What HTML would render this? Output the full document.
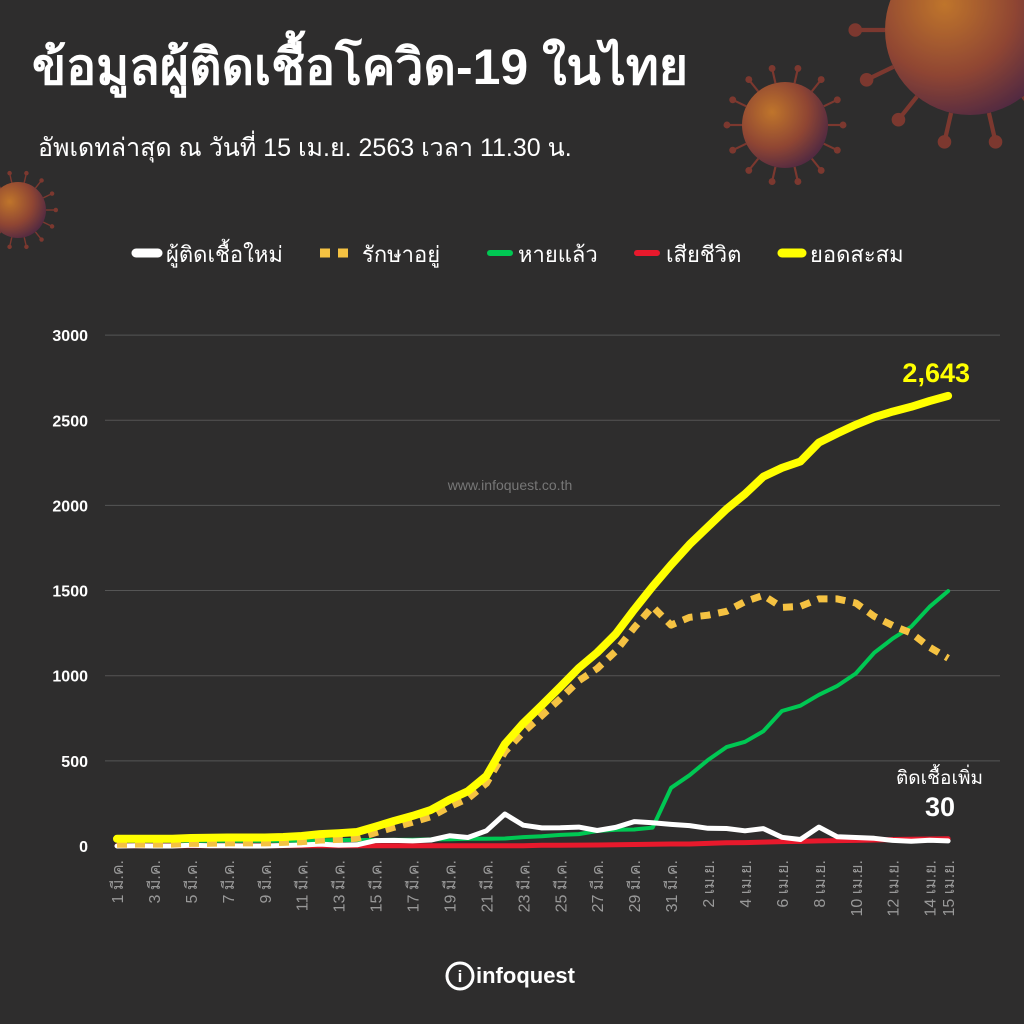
<!DOCTYPE html>
<html><head><meta charset="utf-8"><style>
html,body{margin:0;padding:0;background:#2e2d2d;}
svg{display:block}
text{font-family:"Liberation Sans","Noto Sans CJK SC",sans-serif;}
</style></head><body>
<svg id="s" width="1024" height="1024" xmlns="http://www.w3.org/2000/svg">
<defs>
<radialGradient id="vg" cx="35%" cy="35%" r="70%"><stop offset="0" stop-color="#d9822b"/><stop offset="0.6" stop-color="#a04a35"/><stop offset="1" stop-color="#5a2a45"/></radialGradient>
</defs>
<rect width="1024" height="1024" fill="#2e2d2d"/>
<g id="vir" opacity="0.85"></g>
<text x="32" y="84" fill="#fff" font-size="50" font-weight="bold">ข้อมูลผู้ติดเชื้อโควิด-19 ในไทย</text>
<text x="38" y="156" fill="#fff" font-size="25">อัพเดทล่าสุด ณ วันที่ 15 เม.ย. 2563 เวลา 11.30 น.</text>
<g font-size="22" fill="#fff">
<line x1="136" y1="253" x2="158" y2="253" stroke="#fff" stroke-width="9" stroke-linecap="round"/><text x="166" y="262">ผู้ติดเชื้อใหม่</text>
<line x1="320" y1="253" x2="350" y2="253" stroke="#f5c242" stroke-width="9" stroke-dasharray="10,8"/><text x="362" y="262">รักษาอยู่</text>
<line x1="490" y1="253" x2="510" y2="253" stroke="#00c853" stroke-width="6" stroke-linecap="round"/><text x="518" y="262">หายแล้ว</text>
<line x1="637" y1="253" x2="657" y2="253" stroke="#e8192c" stroke-width="6" stroke-linecap="round"/><text x="666" y="262">เสียชีวิต</text>
<line x1="782" y1="253" x2="802" y2="253" stroke="#ffff00" stroke-width="9" stroke-linecap="round"/><text x="810" y="262">ยอดสะสม</text>
</g>
<g id="grid"></g>
<text x="510" y="490" fill="#777" font-size="14" text-anchor="middle">www.infoquest.co.th</text>
<g id="lines"></g>
<text x="970" y="382" fill="#ffff00" font-size="27" font-weight="bold" text-anchor="end">2,643</text>
<text x="983" y="784" fill="#fff" font-size="19" text-anchor="end">ติดเชื้อเพิ่ม</text>
<text x="955" y="816" fill="#fff" font-size="27" font-weight="bold" text-anchor="end">30</text>
<g transform="translate(446,962)">
<circle cx="14" cy="14" r="13" fill="none" stroke="#fff" stroke-width="3"/>
<text x="14" y="20" fill="#fff" font-size="17" font-weight="bold" text-anchor="middle">i</text>
<text x="30" y="21" fill="#fff" font-size="22" font-weight="bold">infoquest</text>
</g>
</svg>
<script>
var NS="http://www.w3.org/2000/svg";
function el(p,t,a,txt){var e=document.createElementNS(NS,t);for(var k in a)e.setAttribute(k,a[k]);if(txt!=null)e.textContent=txt;p.appendChild(e);return e;}
var vir=document.getElementById('vir');
function virus(cx,cy,r){var n=14;for(var i=0;i<n;i++){var a=i*2*Math.PI/n;var x1=cx+Math.cos(a)*r,y1=cy+Math.sin(a)*r,x2=cx+Math.cos(a)*r*1.35,y2=cy+Math.sin(a)*r*1.35;el(vir,'line',{x1:x1,y1:y1,x2:x2,y2:y2,stroke:'#8a3b30','stroke-width':r*0.05});el(vir,'circle',{cx:x2,cy:y2,r:r*0.08,fill:'#8a3b30'});}el(vir,'circle',{cx:cx,cy:cy,r:r,fill:'url(#vg)'});}
virus(785,125,43);virus(970,30,85);virus(18,210,28);
var g=document.getElementById('grid');
function Y(v){return 846-v*0.1703;}function X(i){return 117+i*18.47;}
for(var v=0;v<=3000;v+=500){if(v>0)el(g,'line',{x1:105,y1:Y(v),x2:1000,y2:Y(v),stroke:'#555','stroke-width':1});el(g,'text',{x:88,y:Y(v)+6,fill:'#fff','font-size':16,'font-weight':'bold','text-anchor':'end'},String(v));}
var labs=[];for(var i=0;i<=30;i+=2)labs.push([i,(i+1)+' มี.ค.']);for(var i=32;i<=44;i+=2)labs.push([i,(i-30)+' เม.ย.']);labs.push([45,'15 เม.ย.']);
labs.forEach(function(l){var x=X(l[0])+6;el(g,'text',{x:0,y:0,fill:'#999','font-size':16,'text-anchor':'end',transform:'translate('+x+',860) rotate(-90)'},l[1]);});
var cum=[42,43,43,43,47,48,50,50,50,53,59,70,75,82,114,147,177,212,272,322,411,599,721,827,934,1045,1136,1245,1388,1524,1651,1771,1875,1978,2067,2169,2220,2258,2369,2423,2473,2518,2551,2579,2613,2643];
var rec=[31,31,31,31,31,31,31,31,31,31,33,34,35,35,35,36,37,39,40,42,42,44,52,57,65,70,88,95,97,108,342,416,505,581,612,674,793,824,888,940,1013,1135,1218,1288,1405,1497];
var dth=[1,1,1,1,1,1,1,1,1,1,1,1,1,1,1,1,1,1,1,1,1,1,1,4,4,5,6,7,9,10,12,12,15,19,20,23,26,27,30,32,33,35,38,40,41,43];
var nw=[],act=[];for(var i=0;i<46;i++){nw.push(i==0?0:cum[i]-cum[i-1]);act.push(cum[i]-rec[i]-dth[i]);}
var L=document.getElementById('lines');
function pl(d,c,w,da){var p=d.map(function(v,i){return X(i).toFixed(1)+','+Y(v).toFixed(1);}).join(' ');var a={points:p,fill:'none',stroke:c,'stroke-width':w,'stroke-linejoin':'round','stroke-linecap':'round'};if(da){a['stroke-dasharray']=da;a['stroke-linecap']='butt';}el(L,'polyline',a);}
pl(rec,'#00c853',4);pl(dth,'#e8192c',5);pl(nw,'#ffffff',5);pl(act,'#f5c242',7,'10,8');pl(cum,'#ffff00',8);
</script>
</body></html>
